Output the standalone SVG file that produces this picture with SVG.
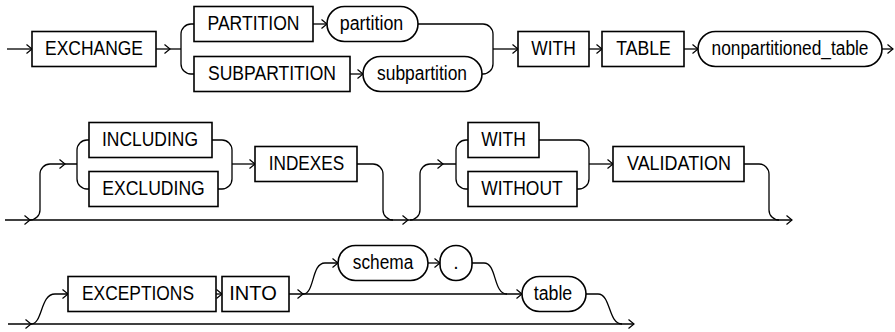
<svg xmlns="http://www.w3.org/2000/svg" xmlns:xlink="http://www.w3.org/1999/xlink" width="895" height="332" viewBox="0 0 895 332">
<style>
.box{fill:#fff;stroke:#000;stroke-width:1.6}
.ln{fill:none;stroke:#000;stroke-width:1.3}
.ah{fill:none;stroke:#000;stroke-width:1.2}
text{font-family:"Liberation Sans Narrow","Liberation Sans",Arial,sans-serif;font-size:19.5px;fill:#000;text-anchor:middle}
</style>
<defs>
<path id="ah" class="ah" d="M-5.5,-4.5 L0,0 L-5.5,4.5"/>
</defs>
<rect width="895" height="332" fill="#fff"/>
<g id="connectors">
<path class="ln" d="M7,49 H32"/>
<path class="ln" d="M156,49 H181"/>
<path class="ln" d="M194,24 H191 A10,10 0 0 0 181,34 V64 A10,10 0 0 0 191,74 H194"/>
<path class="ln" d="M313,24 H327"/>
<path class="ln" d="M350,74 H363"/>
<path class="ln" d="M418,24 H483 A10,10 0 0 1 493,34 V64 A10,10 0 0 1 483,74 H482"/>
<path class="ln" d="M493,49 H518"/>
<path class="ln" d="M589,49 H602"/>
<path class="ln" d="M684,49 H698"/>
<path class="ln" d="M882,49 H893"/>
<path class="ln" d="M5,220 H792"/>
<path class="ln" d="M30,220 A10,10 0 0 0 40,210 V174 A10,10 0 0 1 50,164 H77"/>
<path class="ln" d="M89,140 H87 A10,10 0 0 0 77,150 V179 A10,10 0 0 0 87,189 H89"/>
<path class="ln" d="M212,140 H222 A10,10 0 0 1 232,150 V179 A10,10 0 0 1 222,189 H218"/>
<path class="ln" d="M232,164 H255"/>
<path class="ln" d="M357,164 H373 A10,10 0 0 1 383,174 V210 A10,10 0 0 0 393,220"/>
<path class="ln" d="M410,220 A10,10 0 0 0 420,210 V174 A10,10 0 0 1 430,164 H456"/>
<path class="ln" d="M468,140 H466 A10,10 0 0 0 456,150 V179 A10,10 0 0 0 466,189 H468"/>
<path class="ln" d="M539,140 H579 A10,10 0 0 1 589,150 V179 A10,10 0 0 1 579,189 H577"/>
<path class="ln" d="M589,164 H613"/>
<path class="ln" d="M744,164 H759 A10,10 0 0 1 769,174 V210 A10,10 0 0 0 779,220"/>
<path class="ln" d="M8,324 H634"/>
<path class="ln" d="M31,324 C43,324 40,294 55,294 H68"/>
<path class="ln" d="M216,294 H222"/>
<path class="ln" d="M289,294 H522"/>
<path class="ln" d="M303,294 C315,294 311,263 325,263 H338"/>
<path class="ln" d="M428,263 H440"/>
<path class="ln" d="M472,263 H484 C497,263 493,294 507,294"/>
<path class="ln" d="M586,294 H598 C611,294 608,324 622,324"/>
<use xlink:href="#ah" x="32" y="49"/>
<use xlink:href="#ah" x="170" y="49"/>
<use xlink:href="#ah" x="327" y="24"/>
<use xlink:href="#ah" x="363" y="74"/>
<use xlink:href="#ah" x="518" y="49"/>
<use xlink:href="#ah" x="602" y="49"/>
<use xlink:href="#ah" x="698" y="49"/>
<use xlink:href="#ah" x="893" y="49"/>
<use xlink:href="#ah" x="30" y="220"/>
<use xlink:href="#ah" x="65" y="164"/>
<use xlink:href="#ah" x="255" y="164"/>
<use xlink:href="#ah" x="408" y="220"/>
<use xlink:href="#ah" x="443" y="164"/>
<use xlink:href="#ah" x="613" y="164"/>
<use xlink:href="#ah" x="792" y="220"/>
<use xlink:href="#ah" x="31" y="324"/>
<use xlink:href="#ah" x="68" y="294"/>
<use xlink:href="#ah" x="222" y="294"/>
<use xlink:href="#ah" x="303" y="294"/>
<use xlink:href="#ah" x="338" y="263"/>
<use xlink:href="#ah" x="440" y="263"/>
<use xlink:href="#ah" x="522" y="294"/>
<use xlink:href="#ah" x="634" y="324"/>
</g>
<g id="n-exchange"><rect class="box" x="32" y="31.5" width="124" height="35"/><text x="94" y="54.5" textLength="98" lengthAdjust="spacingAndGlyphs">EXCHANGE</text></g>
<g id="n-partition-kw"><rect class="box" x="194" y="6.5" width="119" height="35"/><text x="253.5" y="29.5" textLength="92" lengthAdjust="spacingAndGlyphs">PARTITION</text></g>
<g id="n-subpartition-kw"><rect class="box" x="194" y="56.5" width="156" height="35"/><text x="272" y="79.5" textLength="128" lengthAdjust="spacingAndGlyphs">SUBPARTITION</text></g>
<g id="n-partition"><rect class="box" x="327" y="6.5" width="91" height="35" rx="17.5"/><text x="371.5" y="29.5" textLength="63.5" lengthAdjust="spacingAndGlyphs">partition</text></g>
<g id="n-subpartition"><rect class="box" x="363" y="56.5" width="119" height="35" rx="17.5"/><text x="422" y="79.5" textLength="90" lengthAdjust="spacingAndGlyphs">subpartition</text></g>
<g id="n-with1"><rect class="box" x="518" y="31.5" width="71" height="35"/><text x="553.5" y="54.5" textLength="44.5" lengthAdjust="spacingAndGlyphs">WITH</text></g>
<g id="n-table-kw"><rect class="box" x="602" y="31.5" width="82" height="35"/><text x="643.5" y="54.5" textLength="54.5" lengthAdjust="spacingAndGlyphs">TABLE</text></g>
<g id="n-nonpartitioned-table"><rect class="box" x="698" y="31.5" width="184" height="35" rx="17.5"/><text x="790" y="54.5" textLength="157" lengthAdjust="spacingAndGlyphs">nonpartitioned_table</text></g>
<g id="n-including"><rect class="box" x="89" y="122.5" width="123" height="35"/><text x="150" y="145.5" textLength="96" lengthAdjust="spacingAndGlyphs">INCLUDING</text></g>
<g id="n-excluding"><rect class="box" x="89" y="171.5" width="129" height="35"/><text x="153.5" y="194.5" textLength="102.5" lengthAdjust="spacingAndGlyphs">EXCLUDING</text></g>
<g id="n-indexes"><rect class="box" x="255" y="146.5" width="102" height="35"/><text x="306.5" y="169.5" textLength="75.5" lengthAdjust="spacingAndGlyphs">INDEXES</text></g>
<g id="n-with2"><rect class="box" x="468" y="122.5" width="71" height="35"/><text x="503.5" y="145.5" textLength="44.5" lengthAdjust="spacingAndGlyphs">WITH</text></g>
<g id="n-without"><rect class="box" x="468" y="171.5" width="109" height="35"/><text x="522" y="194.5" textLength="81.5" lengthAdjust="spacingAndGlyphs">WITHOUT</text></g>
<g id="n-validation"><rect class="box" x="613" y="146.5" width="131" height="35"/><text x="679" y="169.5" textLength="104" lengthAdjust="spacingAndGlyphs">VALIDATION</text></g>
<g id="n-exceptions"><rect class="box" x="68" y="276.5" width="148" height="35"/><text x="138" y="299.5" textLength="112" lengthAdjust="spacingAndGlyphs">EXCEPTIONS</text></g>
<g id="n-into"><rect class="box" x="222" y="276.5" width="67" height="35"/><text x="253" y="299.5" textLength="47.5" lengthAdjust="spacingAndGlyphs">INTO</text></g>
<g id="n-schema"><rect class="box" x="338" y="245.5" width="90" height="35" rx="17.5"/><text x="383" y="268.5" textLength="60.5" lengthAdjust="spacingAndGlyphs">schema</text></g>
<g id="n-dot"><rect class="box" x="440" y="245.5" width="32" height="35" rx="16"/><text x="456" y="268.5">.</text></g>
<g id="n-table"><rect class="box" x="522" y="276.5" width="64" height="35" rx="17.5"/><text x="553" y="299.5" textLength="38.5" lengthAdjust="spacingAndGlyphs">table</text></g>
</svg>
